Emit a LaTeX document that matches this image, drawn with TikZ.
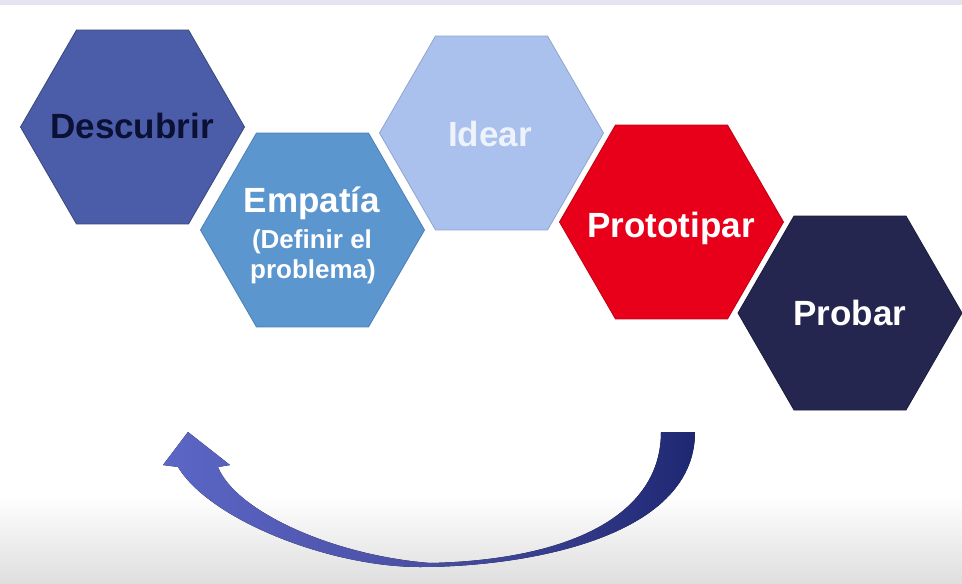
\documentclass[tikz,border=0pt]{standalone}
\usepackage{fontspec}
\setmainfont{Liberation Sans}
\usetikzlibrary{shapes.geometric}
\definecolor{topband}{HTML}{E4E4F1}
\definecolor{botgray}{HTML}{DEDEDE}
\definecolor{cA}{HTML}{4B5CA8}
\definecolor{cAd}{HTML}{3A4878}
\definecolor{cB}{HTML}{5B96CE}
\definecolor{cBd}{HTML}{4C80B4}
\definecolor{cC}{HTML}{A9C1EC}
\definecolor{cCd}{HTML}{8EA6CE}
\definecolor{cD}{HTML}{E8001A}
\definecolor{cDd}{HTML}{C00012}
\definecolor{cE}{HTML}{24264F}
\definecolor{cEd}{HTML}{1A1C3C}
\definecolor{txtA}{HTML}{0B1035}
\definecolor{txtC}{HTML}{EEF3FB}
\definecolor{arrL}{HTML}{5B67C6}
\definecolor{arrM}{HTML}{4A4EA4}
\definecolor{arrR}{HTML}{1E2872}
\begin{document}
\begin{tikzpicture}[x=1pt,y=-1pt,
  hex/.style={regular polygon, regular polygon sides=6, minimum size=224pt, inner sep=0pt, line width=0.8pt},
  big/.style={font=\fontsize{35}{40}\selectfont\bfseries, inner sep=0pt, anchor=base},
  small/.style={font=\fontsize{26}{30}\selectfont\bfseries, inner sep=0pt, anchor=base}]
\useasboundingbox (0,0) rectangle (962,584);
\fill[white] (0,0) rectangle (962,584);
\fill[top color=white, bottom color=botgray] (0,495) rectangle (962,584);
\fill[topband] (0,0) rectangle (962,5);

% hexagons
\node[hex, fill=cA, draw=cAd] (h1) at (132.5,127) {};
\node[hex, fill=cB, draw=cBd] (h2) at (312.5,230) {};
\node[hex, fill=cC, draw=cCd] (h3) at (491.5,133) {};
\node[hex, fill=cD, draw=cDd] (h4) at (671.5,222) {};
\node[hex, fill=cE, draw=cEd] (h5) at (850,313) {};

% texts
\node[big, text=txtA] (t1) at (132,138) {Descubrir};
\node[big, text=white] (t2) at (312,212) {Empatía};
\node[small, text=white] (t2b) at (312,248) {(Definir el};
\node[small, text=white] (t2c) at (313,278) {problema)};
\node[big, text=txtC] (t3) at (490,146) {Idear};
\node[big, text=white] (t4) at (671,237) {Prototipar};
\node[big, text=white] (t5) at (850,325) {Probar};

% curved return arrow
\fill[left color=arrL, right color=arrR, middle color=arrM]
  (695,432) .. controls (695,540) and (520,567) .. (420,567)
  .. controls (330,567) and (210,520) .. (178,467)
  -- (163,465) -- (188,432) -- (230,465) -- (218,467)
  .. controls (235,510) and (330,555) .. (430,563)
  .. controls (570,560) and (661,515) .. (661,432) -- cycle;
\end{tikzpicture}
\end{document}
